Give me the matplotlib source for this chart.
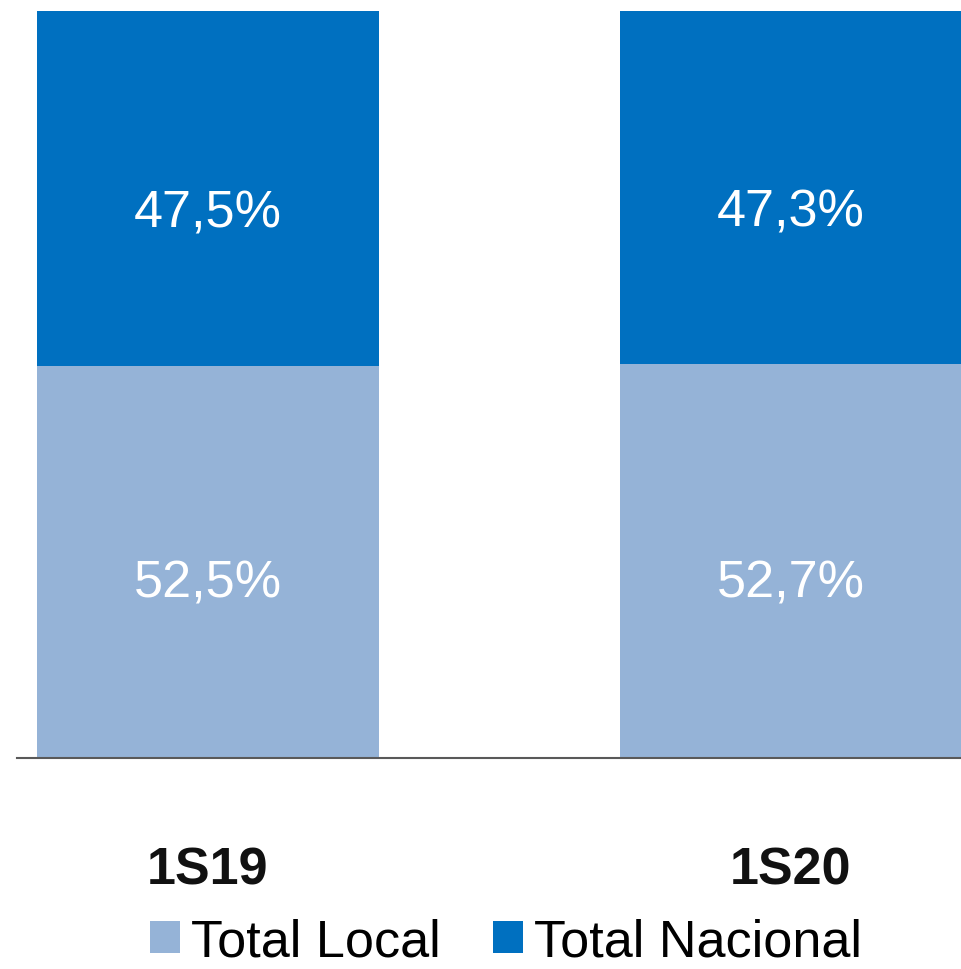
import matplotlib
matplotlib.use("Agg")
import matplotlib.pyplot as plt

plt.rcParams['font.family'] = ['Liberation Sans', 'DejaVu Sans']

categories = ["1S19", "1S20"]
local_vals = [52.5, 52.7]
nacional_vals = [47.5, 47.3]
local_labels = ["52,5%", "52,7%"]
nacional_labels = ["47,5%", "47,3%"]
series_names = ["Total Local", "Total Nacional"]

c_local = "#95B3D7"
c_nac = "#0070C0"

W, H = 961, 970
fig = plt.figure(figsize=(W / 100, H / 100), dpi=100)
ax = fig.add_axes([17 / W, (H - 759) / H, (961 - 17) / W, (759 - 12) / H])

x = list(range(len(categories)))
width = 0.587
b1 = ax.bar(x, local_vals, width=width, color=c_local, label=series_names[0])
b2 = ax.bar(x, nacional_vals, width=width, bottom=local_vals, color=c_nac, label=series_names[1])

for i in x:
    ax.annotate(local_labels[i], (i, local_vals[i] / 2), xytext=(0, -15.5), textcoords="offset points",
                ha="center", va="center", color="white", fontsize=37.5)
    ax.annotate(nacional_labels[i], (i, local_vals[i] + nacional_vals[i] / 2), xytext=(0, -17.5),
                textcoords="offset points", ha="center", va="center", color="white", fontsize=37.5)

ax.set_xlim(-0.3276, 1.2916)
ax.set_ylim(0, 100)
for s in ["top", "right", "left"]:
    ax.spines[s].set_visible(False)
ax.spines["bottom"].set_color("#595959")
ax.spines["bottom"].set_linewidth(1.5)
ax.set_yticks([])
ax.set_xticks(x)
ax.set_xticklabels(categories, fontsize=37.5, fontweight="bold", color="#111111")
ax.tick_params(axis="x", length=0, pad=63)

fig.legend(handles=[b1, b2], labels=series_names, loc="center",
           bbox_to_anchor=(506 / W, (H - 943) / H), ncol=2, frameon=False,
           fontsize=37.5, handlelength=0.57, handleheight=0.57, handletextpad=0.22,
           columnspacing=1.0, borderpad=0, borderaxespad=0)

fig.savefig("out.png", dpi=100)
